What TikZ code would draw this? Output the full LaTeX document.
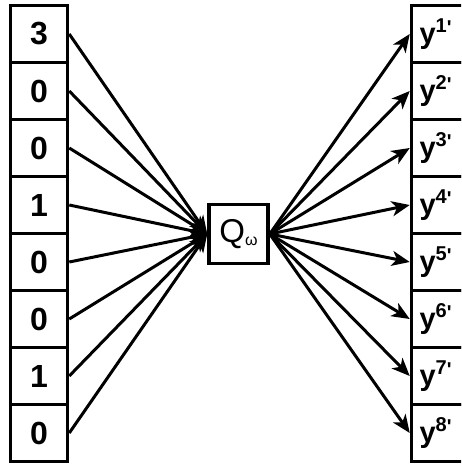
\documentclass[tikz,border=0pt]{standalone}
\usepackage{fontspec}
\setmainfont{Liberation Sans}
\usetikzlibrary{arrows.meta}
\begin{document}
\begin{tikzpicture}[x=1pt,y=-1pt,
  cell/.style={draw, line width=3.5pt, minimum size=57pt, inner sep=0pt, fill=white,
    font=\fontsize{32}{32}\selectfont\bfseries},
  rcell/.style={draw, line width=3.5pt, minimum size=57pt, inner xsep=8pt, inner ysep=0pt,
    text width=41pt, align=left, fill=white, font=\fontsize{29}{29}\selectfont\bfseries},
  qbox/.style={draw, line width=3.5pt, minimum size=59pt, inner sep=0pt, fill=white,
    font=\fontsize{33}{33}\selectfont},
  arr/.style={line width=3pt, -{Stealth[length=18pt,width=15pt,inset=5pt]}}]
\useasboundingbox (0,0) rectangle (461,465);
\clip (0,0) rectangle (461,465);
\foreach \v [count=\i] in {3,0,0,1,0,0,1,0} {
  \node[cell] (l\i) at (39,{34+57*(\i-1)}) {\v};
  \node[rcell] (r\i) at (440,{34+57*(\i-1)}) {y\raisebox{11.5pt}{\fontsize{20}{20}\selectfont\bfseries \i\raisebox{-2pt}{\textquotesingle}}};
}
\node[qbox] (q) at (238.5,234) {Q\raisebox{-3pt}{\fontsize{16}{16}\selectfont ω}};
\foreach \i in {1,...,8} {
  \draw[arr] (l\i.east) -- (q.west);
  \draw[arr] (q.east) -- (r\i.west);
}
\end{tikzpicture}
\end{document}
